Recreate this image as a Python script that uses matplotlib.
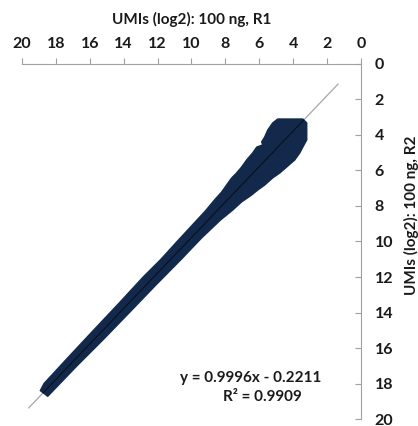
import matplotlib
matplotlib.use('Agg')
import matplotlib.pyplot as plt
from matplotlib.patches import Polygon

# outline of the dense point cloud (R1 on x, R2 on y)
# upper-left edge from the top of the blob down, then lower-right edge back up
cloud_x = [4.91, 5.21, 5.50, 5.68, 5.86, 5.80, 6.15, 6.39, 6.75, 7.04, 7.34, 7.63, 7.93,
           8.22, 8.64, 9.20, 9.88, 10.85, 11.80, 12.85, 14.30, 15.78, 17.25, 18.70, 18.92,
           18.48, 16.75, 15.18, 13.66, 12.15, 10.60, 9.40, 8.30, 7.57, 7.04, 6.45, 6.09,
           5.68, 5.21, 4.79, 4.38, 3.91, 3.61, 3.43, 3.20, 3.20, 3.43]
cloud_y = [3.10, 3.32, 3.72, 4.11, 4.39, 4.56, 4.68, 5.01, 5.41, 5.80, 6.14, 6.42, 6.82,
           7.21, 7.66, 8.30, 9.00, 10.00, 11.00, 12.00, 13.50, 15.00, 16.50, 18.00, 18.40,
           18.72, 17.00, 15.50, 14.00, 12.50, 11.00, 9.80, 8.80, 8.23, 7.77, 7.38, 7.10,
           6.82, 6.42, 6.14, 5.80, 5.41, 5.01, 4.68, 4.28, 3.32, 3.10]

slope = 0.9996
intercept = -0.2211
r2 = 0.9909
fit_x = [1.35, 19.6]

ticks = [0, 2, 4, 6, 8, 10, 12, 14, 16, 18, 20]

plt.rcParams['font.family'] = ['Lato', 'DejaVu Sans']
plt.rcParams['font.weight'] = 'bold'

fig = plt.figure(figsize=(4.18, 4.26), dpi=100)
ax = fig.add_axes([0.0526, 0.0164, 0.811, 0.8334])

navy = '#13294b'
poly = Polygon(list(zip(cloud_x, cloud_y)), closed=True, facecolor=navy,
               edgecolor=navy, lw=1.0, joinstyle='round', zorder=2)
ax.add_patch(poly)

# trend line: grey outside the cloud, a darker thread inside it
fit_y = [slope * v + intercept for v in fit_x]
ax.plot(fit_x, fit_y, color='#a6a6a6', lw=0.9, zorder=1)
inner, = ax.plot(fit_x, fit_y, color='#08131f', lw=0.9, zorder=3)
inner.set_clip_path(poly)

ax.set_xlim(20, 0)
ax.set_ylim(20, 0)
ax.set_xticks(ticks)
ax.set_yticks(ticks)

for s in ['left', 'bottom']:
    ax.spines[s].set_visible(False)
for s in ['top', 'right']:
    ax.spines[s].set_color('#a0a0a0')
    ax.spines[s].set_linewidth(0.8)

ax.xaxis.tick_top()
ax.yaxis.tick_right()
ax.tick_params(axis='x', direction='out', length=4, width=0.8, color='#a0a0a0',
               labelsize=11.5, pad=5)
ax.tick_params(axis='y', direction='in', length=4, width=0.8, color='#a0a0a0',
               labelsize=11.5, pad=10)
for lab in ax.get_xticklabels() + ax.get_yticklabels():
    lab.set_fontweight('bold')
    lab.set_color('#1a1a1a')

ax.xaxis.set_label_position('top')
ax.set_xlabel('UMIs (log2): 100 ng, R1', fontsize=11, fontweight='bold', labelpad=10,
              color='#1a1a1a')
ax.yaxis.set_label_position('right')
ax.set_ylabel('UMIs (log2): 100 ng, R2', fontsize=11, fontweight='bold', rotation=90,
              color='#1a1a1a')
ax.yaxis.set_label_coords(1.127, 0.575)

ax.text(0.675, 0.115, 'y = {:.4f}x - {:.4f}'.format(slope, -intercept), transform=ax.transAxes,
        ha='center', va='center', fontsize=11, fontweight='bold', color='#1a1a1a')
ax.text(0.71, 0.062, 'R\u00b2 = {:.4f}'.format(r2), transform=ax.transAxes,
        ha='center', va='center', fontsize=11, fontweight='bold', color='#1a1a1a')

fig.savefig('out.png', dpi=100)
